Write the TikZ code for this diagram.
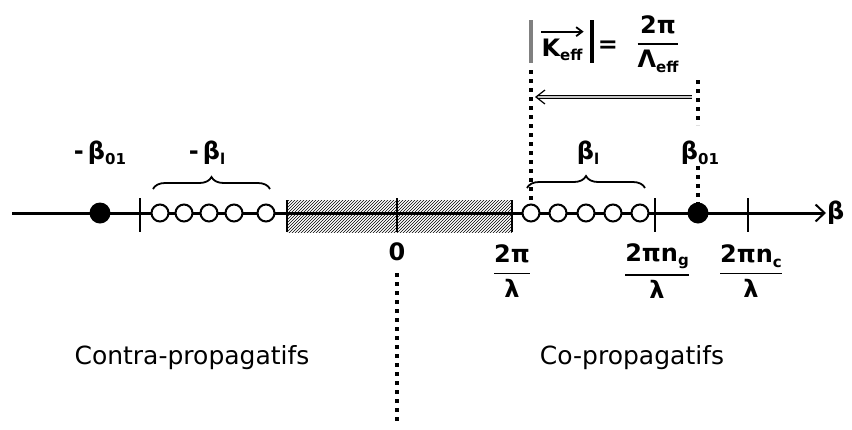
\documentclass[tikz,border=0pt]{standalone}
\usepackage{amsmath}
\usepackage{fontspec}
\setmainfont{DejaVu Sans}
\usetikzlibrary{arrows.meta,decorations.pathreplacing,patterns}
\newcommand{\lo}[1]{\raisebox{-0.35ex}{\fontsize{15}{15}\selectfont #1}}
\newcommand{\fr}[2]{$\genfrac{}{}{1.6pt}{0}{\text{#1}}{\text{#2}}$}

\begin{document}
\begin{tikzpicture}[x=1pt,y=-1pt,
  full/.style={circle,fill,inner sep=0pt,minimum size=21pt},
  hole/.style={circle,draw,fill=white,line width=2pt,inner sep=0pt,minimum size=17pt},
  tickmark/.style={line width=2.6pt},
  guide/.style={line width=4pt,dash pattern=on 4pt off 5pt},
  brc/.style={decorate,decoration={brace,amplitude=12pt},line width=1.8pt},
  lbl/.style={font=\fontsize{24}{28}\selectfont\bfseries,inner sep=1pt},
  txt/.style={font=\fontsize{25}{30}\selectfont}]
  \useasboundingbox (0,0) rectangle (852,429);
  % hatched band between -2pi/lambda and 2pi/lambda
  \fill[pattern=north east lines,pattern color=black] (287,200) rectangle (512,232);
  \draw[tickmark] (287,200) -- (287,232);
  \draw[tickmark] (512,200) -- (512,232);
  % beta axis
  \coordinate (start) at (12,213);
  \node[lbl,anchor=west] (beta) at (826,213) {β};
  \draw[line width=3pt,-{Straight Barb[length=9pt,width=17pt,line width=2pt]}] (start) -- (beta.west);
  \foreach \x in {140,397,655,748}
    \draw[tickmark] (\x,198) -- (\x,232);
  % guided modes
  \foreach \x [count=\i] in {160,184,209,234,266}
    \node[hole] (l\i) at (\x,213) {};
  \foreach \x [count=\i] in {531,558,586,613,640}
    \node[hole] (r\i) at (\x,213) {};
  \node[full] (mb) at (100,213) {};
  \node[full] (pb) at (698,213) {};
  % mode labels and braces
  \node[lbl] (mbl) at (100,153) {-\,β\lo{01}};
  \node[lbl] (mbll) at (207,153) {-\,β\lo{l}};
  \node[lbl] (pbll) at (588,153) {β\lo{l}};
  \node[lbl] (pbl) at (700,153) {β\lo{01}};
  \draw[brc] (153,189) -- (270,189);
  \draw[brc] (527,188) -- (645,188);
  % values under the axis
  \node[lbl] (zero) at (397,252) {0};
  \node[lbl] (k0) at (512,271) {\fr{2π}{λ}};
  \node[lbl] (kg) at (657,271) {\fr{2πn\lo{g}}{λ}};
  \node[lbl] (kc) at (751,271) {\fr{2πn\lo{c}}{λ}};
  \node[txt] (contra) at (192,358) {Contra-propagatifs};
  \node[txt] (co) at (632,358) {Co-propagatifs};
  \coordinate (zt) at (397,273);
  \coordinate (zb) at (397,425);
  \draw[guide] (zt) -- (zb);
  % grating vector
  \draw[line width=3.5pt,gray] (531,20) -- (531,63);
  \draw[line width=3.5pt] (592,20) -- (592,63);
  \node[lbl] (keff) at (562,50) {K\lo{eff}};
  \draw[line width=1.8pt,-{Straight Barb[length=6pt,width=9pt]}] ([xshift=1pt,yshift=6pt]keff.north west) -- ([yshift=6pt]keff.north east);
  \node[lbl] (eq) at (608,47) {=};
  \node[lbl] (grat) at (658,44) {\fr{2π}{Λ\lo{eff}}};
  \coordinate (kt) at (531,70);
  \draw[guide] (kt) -- (r1.north);
  \coordinate (gt) at (698,80);
  \coordinate (gb) at (698,125);
  \draw[guide] (gt) -- (gb);
  \draw[guide] (pb |- pbl.south) -- (pb.north);
  \coordinate (as) at (692,97);
  \coordinate (ae) at (535,97);
  \draw[line width=1.2pt,double=gray!45,double distance=2.5pt,-{Straight Barb[length=9pt,width=14pt]}] (as) -- (ae);
\end{tikzpicture}
\end{document}
